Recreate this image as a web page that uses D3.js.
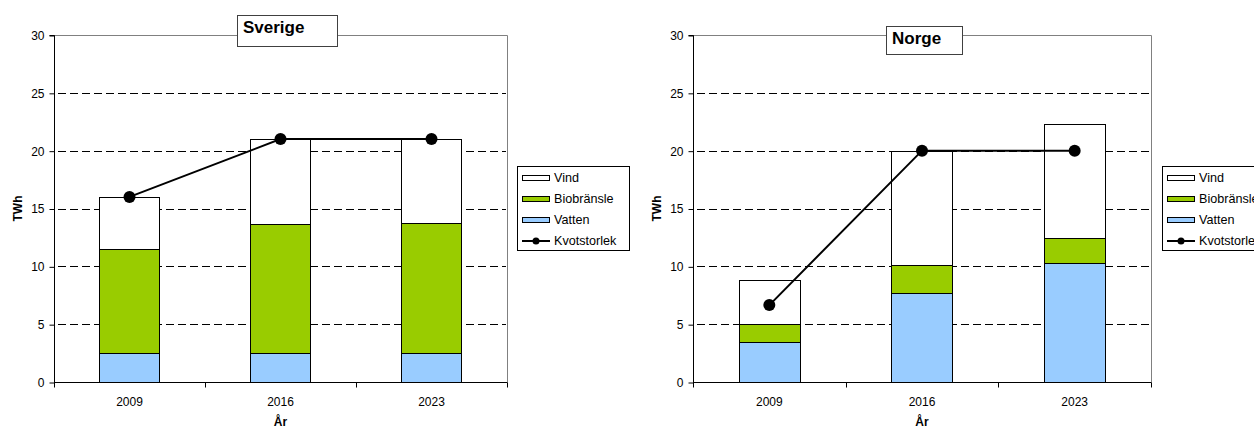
<!DOCTYPE html>
<html>
<head>
<meta charset="utf-8">
<script src="https://cdn.jsdelivr.net/npm/d3@7/dist/d3.min.js"></script>
<style>
  html, body { margin: 0; padding: 0; background: #fff; }
  svg { display: block; font-family: "Liberation Sans", Arial, sans-serif; }
</style>
</head>
<body>
<svg id="chart" width="1254" height="428"></svg>
<script>
// Years on the category axis
const years = ["2009", "2016", "2023"];
const yTicks = [0, 5, 10, 15, 20, 25, 30];

// Sverige (TWh)
const sverigeVatten = [2.5, 2.5, 2.5];
const sverigeBio = [9.0, 11.15, 11.25];
const sverigeVind = [4.5, 7.35, 7.25];
const sverigeKvot = [16, 21, 21];

// Norge (TWh)
const norgeVatten = [3.45, 7.7, 10.25];
const norgeBio = [1.55, 2.4, 2.2];
const norgeVind = [3.8, 9.9, 9.85];
const norgeKvot = [6.65, 20, 20];

const seriesNames = ["Vatten", "Biobränsle", "Vind"];
const seriesColors = { "Vatten": "#99ccff", "Biobränsle": "#99cc00", "Vind": "#ffffff" };

const svg = d3.select("#chart");

function drawPanel(cfg) {
  const { title, vatten, bio, vind, kvot, x0, x1, y0, y1 } = cfg;
  const g = svg.append("g");

  const rows = years.map((yr, i) => ({ year: yr, "Vatten": vatten[i], "Biobränsle": bio[i], "Vind": vind[i], kvot: kvot[i] }));

  const x = d3.scaleBand().domain(years).range([x0, x1]).padding(0);
  const y = d3.scaleLinear().domain([0, 30]).range([y1, y0]);

  // dashed gridlines
  g.append("g")
    .selectAll("line")
    .data(yTicks.filter(t => t > 0 && t < 30))
    .join("line")
    .attr("x1", x0 + 4).attr("x2", x1 - 1)
    .attr("y1", d => Math.round(y(d)) + 0.5)
    .attr("y2", d => Math.round(y(d)) + 0.5)
    .attr("stroke", "#000")
    .attr("stroke-width", 1)
    .attr("stroke-dasharray", "8,4");

  // plot frame top/right
  g.append("path")
    .attr("d", `M${x0},${Math.round(y0) + 0.5}H${Math.round(x1) + 0.5}V${y1}`)
    .attr("fill", "none")
    .attr("stroke", "#808080")
    .attr("stroke-width", 1);

  // stacked bars
  const stack = d3.stack().keys(seriesNames);
  const stacked = stack(rows);
  const barW = x.bandwidth() * 0.4;
  g.append("g")
    .selectAll("g")
    .data(stacked)
    .join("g")
    .attr("fill", d => seriesColors[d.key])
    .selectAll("rect")
    .data(d => d)
    .join("rect")
    .attr("x", d => Math.round(x(d.data.year) + x.bandwidth() / 2 - barW / 2) + 0.5)
    .attr("width", Math.round(barW))
    .attr("y", d => Math.round(y(d[1])) + 0.5)
    .attr("height", d => Math.round(y(d[0])) - Math.round(y(d[1])))
    .attr("stroke", "#000")
    .attr("stroke-width", 1);

  // y axis
  const yAxis = d3.axisLeft(y).tickValues(yTicks).tickSize(5).tickPadding(5);
  const ya = g.append("g").attr("transform", `translate(${Math.round(x0) + 0.5},0.5)`).call(yAxis);
  ya.select(".domain").attr("stroke", "#000").attr("d", `M-5,${y(30)}H0V${y(0)}`);
  ya.selectAll(".tick line").attr("stroke", "#000");
  ya.selectAll("text").attr("font-size", 12).attr("fill", "#000")
    .attr("font-family", "'Liberation Sans', Arial, sans-serif");

  // x axis with ticks between categories
  const xa = g.append("g").attr("transform", `translate(0,${Math.round(y1) + 0.5})`);
  xa.append("line").attr("x1", x0).attr("x2", x1 + 0.5).attr("stroke", "#000");
  const edges = years.map(yr => x(yr)).concat([x1]);
  xa.selectAll("line.tk").data(edges).join("line").attr("class", "tk")
    .attr("x1", d => Math.round(d) + 0.5).attr("x2", d => Math.round(d) + 0.5)
    .attr("y1", 0).attr("y2", 5).attr("stroke", "#000");
  xa.selectAll("text").data(years).join("text")
    .attr("x", d => x(d) + x.bandwidth() / 2)
    .attr("y", 23)
    .attr("text-anchor", "middle")
    .attr("font-size", 12)
    .text(d => d);

  // axis titles
  g.append("text")
    .attr("x", (x0 + x1) / 2).attr("y", 426)
    .attr("text-anchor", "middle").attr("font-size", 12).attr("font-weight", "bold")
    .text("År");
  g.append("text")
    .attr("transform", `translate(${x0 - 32},${(y0 + y1) / 2}) rotate(-90)`)
    .attr("text-anchor", "middle").attr("font-size", 12).attr("font-weight", "bold")
    .text("TWh");

  // Kvotstorlek line
  const line = d3.line().x(d => x(d.year) + x.bandwidth() / 2).y(d => y(d.kvot));
  g.append("path").datum(rows).attr("d", line)
    .attr("fill", "none").attr("stroke", "#000").attr("stroke-width", 2);
  g.append("g").selectAll("circle").data(rows).join("circle")
    .attr("cx", d => x(d.year) + x.bandwidth() / 2)
    .attr("cy", d => y(d.kvot))
    .attr("r", 6)
    .attr("fill", "#000");

  // title box
  const tb = cfg.titleBox;
  g.append("rect")
    .attr("x", tb.x + 0.5).attr("y", tb.y + 0.5).attr("width", tb.w).attr("height", tb.h)
    .attr("fill", "#fff").attr("stroke", "#404040").attr("stroke-width", 1);
  g.append("text")
    .attr("x", tb.x + 6).attr("y", tb.base)
    .attr("font-size", 17).attr("font-weight", "bold")
    .text(title);

  // legend
  const lg = cfg.legend;
  const leg = g.append("g");
  leg.append("rect")
    .attr("x", lg.x + 0.5).attr("y", lg.y + 0.5).attr("width", lg.w).attr("height", 84)
    .attr("fill", "#fff").attr("stroke", "#000").attr("stroke-width", 1);
  const legItems = ["Vind", "Biobränsle", "Vatten", "Kvotstorlek"];
  legItems.forEach((name, i) => {
    const base = lg.y + 16 + i * 21;
    if (name === "Kvotstorlek") {
      leg.append("line")
        .attr("x1", lg.x + 5).attr("x2", lg.x + 33)
        .attr("y1", base - 4).attr("y2", base - 4)
        .attr("stroke", "#000").attr("stroke-width", 2);
      leg.append("circle").attr("cx", lg.x + 19).attr("cy", base - 4).attr("r", 3.5).attr("fill", "#000");
    } else {
      leg.append("rect")
        .attr("x", lg.x + 5.5).attr("y", base - 6.5).attr("width", 27).attr("height", 5)
        .attr("fill", seriesColors[name]).attr("stroke", "#000").attr("stroke-width", 1);
    }
    leg.append("text")
      .attr("x", lg.x + 37).attr("y", base)
      .attr("font-size", 12.6)
      .text(name);
  });
}

drawPanel({
  title: "Sverige", vatten: sverigeVatten, bio: sverigeBio, vind: sverigeVind, kvot: sverigeKvot,
  x0: 54, x1: 507, y0: 35, y1: 382,
  titleBox: { x: 237, y: 15, w: 100, h: 31, base: 33 },
  legend: { x: 517, y: 166, w: 112 }
});

drawPanel({
  title: "Norge", vatten: norgeVatten, bio: norgeBio, vind: norgeVind, kvot: norgeKvot,
  x0: 693, x1: 1151, y0: 35, y1: 382,
  titleBox: { x: 886, y: 26, w: 76, h: 28, base: 44 },
  legend: { x: 1162, y: 166, w: 112 }
});
</script>
</body>
</html>
